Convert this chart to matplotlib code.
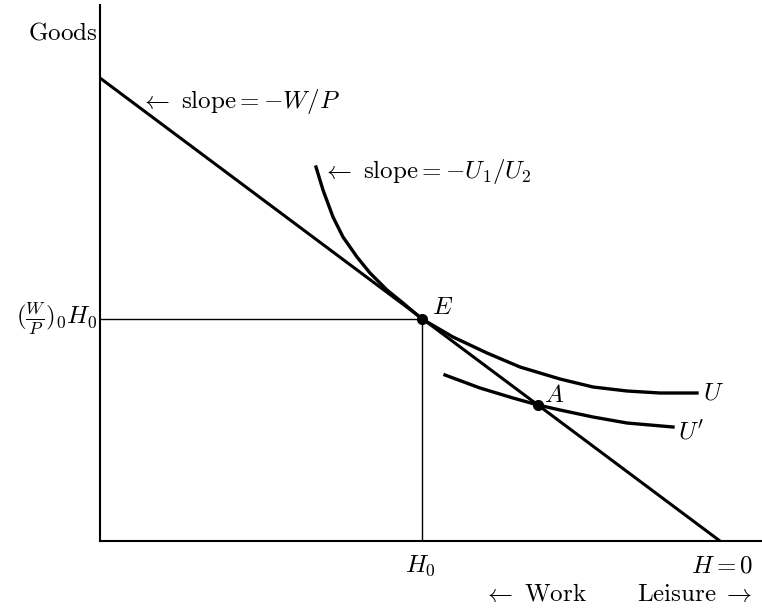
import matplotlib
matplotlib.use("Agg")
import matplotlib.pyplot as plt

plt.rcParams['mathtext.fontset'] = 'cm'
plt.rcParams['font.family'] = 'DejaVu Serif'

# budget line end points (goods intercept, leisure intercept)
budget_x = [0, 620]
budget_y = [463, 0]

# equilibrium E and point A
E = (322, 222)
A = (438, 136)

# indifference curve U
u_x = [216, 223, 233, 243, 257, 270, 287, 303, 322, 353, 387, 420, 460, 493, 527, 560, 597]
u_y = [374, 351, 324, 304, 284, 268, 251, 238, 222, 204, 188, 174, 162, 154, 150, 148, 148]

# lower indifference curve U'
u2_x = [345, 380, 413, 438, 460, 493, 527, 573]
u2_y = [166, 153, 143, 136, 131, 124, 118, 114]

fig = plt.figure(figsize=(7.62, 6.11), dpi=100)
ax = fig.add_axes([100 / 762, 70 / 611, 662 / 762, 536 / 611])
ax.set_xlim(0, 662)
ax.set_ylim(0, 536)
for s in ['top', 'right']:
    ax.spines[s].set_visible(False)
ax.spines['left'].set_linewidth(1.5)
ax.spines['bottom'].set_linewidth(1.5)
ax.set_xticks([])
ax.set_yticks([])

ax.plot(budget_x, budget_y, color='black', lw=2.2, solid_capstyle='butt')
ax.plot(u_x, u_y, color='black', lw=2.4, solid_joinstyle='round')
ax.plot(u2_x, u2_y, color='black', lw=2.4, solid_joinstyle='round')
ax.plot([0, E[0]], [E[1], E[1]], color='black', lw=1.0)
ax.plot([E[0], E[0]], [0, E[1]], color='black', lw=1.0)
ax.plot(*E, 'o', color='black', ms=7)
ax.plot(*A, 'o', color='black', ms=7)

fs = 18
ax.text(40, 439, r'$\leftarrow\ \mathrm{slope} = -W/P$', fontsize=fs, va='center', ha='left')
ax.text(222, 369, r'$\leftarrow\ \mathrm{slope} = -U_1/U_2$', fontsize=fs, va='center', ha='left')
ax.text(332, 234, r'$E$', fontsize=fs, va='center', ha='left')
ax.text(444, 145, r'$A$', fontsize=fs, va='center', ha='left')
ax.text(603, 148, r'$U$', fontsize=fs, va='center', ha='left')
ax.text(578, 109, r"$U'$", fontsize=fs, va='center', ha='left')
ax.text(-3, 508, r'$\mathrm{Goods}$', fontsize=fs, va='center', ha='right', clip_on=False)
ax.text(-3, 222, r'$(\frac{W}{P})_0 H_0$', fontsize=fs, va='center', ha='right', clip_on=False)
ax.text(320, -25, r'$H_0$', fontsize=fs, va='center', ha='center', clip_on=False)
ax.text(622, -25, r'$H = 0$', fontsize=fs, va='center', ha='center', clip_on=False)
ax.text(435, -54, r'$\leftarrow\ \mathrm{Work}$', fontsize=fs, va='center', ha='center', clip_on=False)
ax.text(595, -54, r'$\mathrm{Leisure}\ \rightarrow$', fontsize=fs, va='center', ha='center', clip_on=False)

fig.savefig('out.png', dpi=100)
